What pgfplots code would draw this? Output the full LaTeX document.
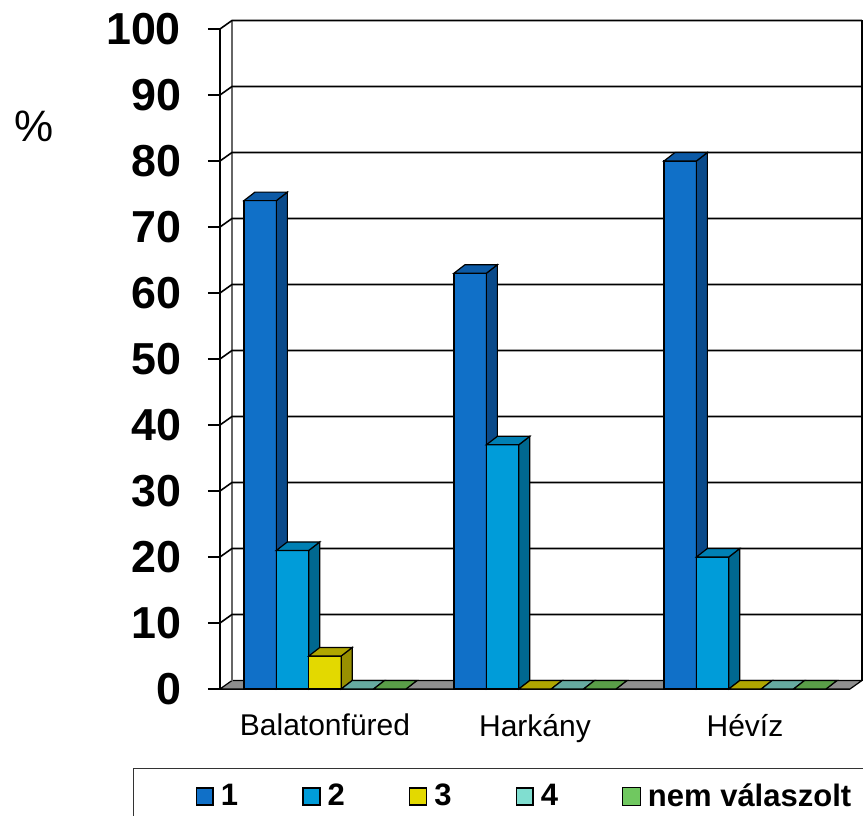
\documentclass[border=0pt]{standalone}
\usepackage{pgfplots}
\pgfplotsset{compat=1.18}
\usepackage{pgfplotstable}
\usepackage{fontspec}
\setmainfont{Liberation Sans}

\definecolor{c1f}{HTML}{1070C8}
\definecolor{c1t}{HTML}{0C5AA6}
\definecolor{c1s}{HTML}{0A4A8A}
\definecolor{c2f}{HTML}{009CD9}
\definecolor{c2t}{HTML}{0080B4}
\definecolor{c2s}{HTML}{006890}
\definecolor{c3f}{HTML}{E3D900}
\definecolor{c3t}{HTML}{B0A600}
\definecolor{c3s}{HTML}{989000}
\definecolor{c4f}{HTML}{80DED0}
\definecolor{c4t}{HTML}{66AAA0}
\definecolor{c4s}{HTML}{4F8A82}
\definecolor{c5f}{HTML}{70C860}
\definecolor{c5t}{HTML}{5A9E48}
\definecolor{c5s}{HTML}{4A8038}
\definecolor{floorgray}{HTML}{8E8E8E}

\pgfplotstableread{
cat s1 s2 s3 s4 s5
0 74 21 5 0 0
1 63 37 0 0 0
2 80 20 0 0 0
}\data

% 3D bar drawn at the data point (top-centre of front face)
\newcommand\cuboid[3]{%
  \pgfmathsetmacro\hh{3.3*\val}%
  \filldraw[fill=#1,draw=black,line width=0.6pt] (-8.1pt,-\hh pt) rectangle (8.1pt,0pt);
  \filldraw[fill=#3,draw=black,line width=0.6pt] (8.1pt,0pt) -- ++(5.5pt,4.25pt) -- ++(0pt,-\hh pt) -- ++(-5.5pt,-4.25pt) -- cycle;
  \filldraw[fill=#2,draw=black,line width=0.6pt] (-8.1pt,0pt) -- ++(5.5pt,4.25pt) -- ++(16.2pt,0pt) -- ++(-5.5pt,-4.25pt) -- cycle;
}
\pgfdeclareplotmark{cubeA}{\cuboid{c1f}{c1t}{c1s}}
\pgfdeclareplotmark{cubeB}{\cuboid{c2f}{c2t}{c2s}}
\pgfdeclareplotmark{cubeC}{\cuboid{c3f}{c3t}{c3s}}
\pgfdeclareplotmark{cubeD}{\cuboid{c4f}{c4t}{c4s}}
\pgfdeclareplotmark{cubeE}{\cuboid{c5f}{c5t}{c5s}}

\begin{document}
\begin{tikzpicture}
\begin{axis}[
  at={(0,0)}, anchor=south west,
  scale only axis, width=315pt, height=330pt,
  xmin=0, xmax=3, ymin=0, ymax=100,
  clip=false,
  axis x line*=bottom, axis y line*=left,
  axis line style={line width=0.8pt, black},
  xtick=\empty,
  minor xtick={0,1,2,3},
  minor tick length=4.5pt,
  extra x ticks={0.5,1.5,2.5},
  extra x tick labels={Balatonfüred,Harkány,Hévíz},
  extra x tick style={major tick length=0pt, tick label style={font=\fontsize{15}{18}\selectfont, yshift=-9pt}},
  ytick={0,10,20,30,40,50,60,70,80,90,100},
  tick align=outside,
  major tick length=6pt,
  tick style={black, line width=0.8pt},
  /pgf/number format/assume math mode=true,
  yticklabel style={font=\fontsize{22.4}{26}\selectfont\bfseries, text=black, xshift=-10pt},
  ylabel={\%},
  ylabel style={rotate=-90, at={(axis description cs:-0.2952,0.853)}, anchor=center, font=\fontsize{22}{26}\selectfont},
  legend columns=5,
  legend style={at={(0,0)}, anchor=north west, xshift=-43.5pt, yshift=-39.5pt,
    draw=black!80, line width=0.6pt, fill=white,
    font=\fontsize{15.5}{18}\selectfont\bfseries,
    inner xsep=31pt, inner ysep=5.5pt,
    nodes={inner xsep=2pt},
    /tikz/every odd column/.append style={column sep=1.5pt},
    /tikz/every even column/.append style={column sep=30pt}},
]
% floor and walls
\filldraw[fill=floorgray, draw=black, line width=0.6pt] (axis cs:0,0) -- (axis cs:3,0) -- ++(6pt,4.25pt) -- ([shift={(6pt,4.25pt)}]axis cs:0,0) -- cycle;
\draw[line width=0.6pt, black!60] ([shift={(6pt,4.25pt)}]axis cs:0,0) -- ([shift={(6pt,4.25pt)}]axis cs:0,100);
\draw[line width=0.8pt] ([shift={(6pt,4.25pt)}]axis cs:3,0) -- ([shift={(6pt,4.25pt)}]axis cs:3,100);
\pgfplotsinvokeforeach{10,20,30,40,50,60,70,80,90,100}{
  \draw[line width=0.8pt] (axis cs:0,#1) -- ++(6pt,4.25pt) -- ([shift={(6pt,4.25pt)}]axis cs:3,#1);
}

\addplot[only marks, mark=cubeA, visualization depends on={\thisrow{s1}\as\val},
  legend image code/.code={\filldraw[fill=c1f,draw=black,line width=0.8pt] (0pt,-4.2pt) rectangle (8.4pt,4.2pt);}]
  table[x expr=\thisrow{cat}+0.5-2*0.154286, y=s1] {\data};
\addlegendentry{1}
\addplot[only marks, mark=cubeB, visualization depends on={\thisrow{s2}\as\val},
  legend image code/.code={\filldraw[fill=c2f,draw=black,line width=0.8pt] (0pt,-4.2pt) rectangle (8.4pt,4.2pt);}]
  table[x expr=\thisrow{cat}+0.5-0.154286, y=s2] {\data};
\addlegendentry{2}
\addplot[only marks, mark=cubeC, visualization depends on={\thisrow{s3}\as\val},
  legend image code/.code={\filldraw[fill=c3f,draw=black,line width=0.8pt] (0pt,-4.2pt) rectangle (8.4pt,4.2pt);}]
  table[x expr=\thisrow{cat}+0.5, y=s3] {\data};
\addlegendentry{3}
\addplot[only marks, mark=cubeD, visualization depends on={\thisrow{s4}\as\val},
  legend image code/.code={\filldraw[fill=c4f,draw=black,line width=0.8pt] (0pt,-4.2pt) rectangle (8.4pt,4.2pt);}]
  table[x expr=\thisrow{cat}+0.5+0.154286, y=s4] {\data};
\addlegendentry{4}
\addplot[only marks, mark=cubeE, visualization depends on={\thisrow{s5}\as\val},
  legend image code/.code={\fill[fill=c5f] (0pt,-4.4pt) rectangle (8.8pt,4.4pt);}]
  table[x expr=\thisrow{cat}+0.5+2*0.154286, y=s5] {\data};
\addlegendentry{nem válaszolt}
\end{axis}
\pgfresetboundingbox
\useasboundingbox (-110pt,-63pt) rectangle (321.5pt,344.5pt);
\end{tikzpicture}
\end{document}
